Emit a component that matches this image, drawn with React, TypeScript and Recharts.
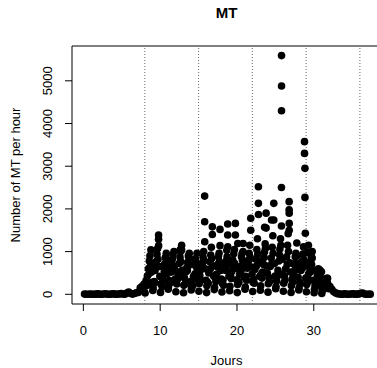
import { ScatterChart, Scatter, XAxis, YAxis, ReferenceLine, ReferenceArea } from "recharts";

// Axis setup (R style: 4% padding around data range)
const xDomain = [-1.48, 38.75];
const yDomain = [-227, 5815];
const xTicks = [0, 10, 20, 30];
const yTicks = [0, 1000, 2000, 3000, 4000, 5000];
const weekMarks = [8, 15, 22, 29, 36];

// Before the season: one reading every 6 hours
const sampleStep = 0.25;
const preStart = 0.15;
const preCounts = [
  5, 2, 0, 8, 3, 0, 4, 10, 2, 0, 6, 12, 3, 0, 5, 14,
  4, 0, 8, 15, 6, 2, 30, 55, 20, 5, 18, 35, 45, 150, 190, 240,
];

// After the season
const postStart = 32.1;
const postCounts = [
  180, 120, 60, 30, 15, 8, 0, 5, 10, 3, 0, 6, 12, 4, 0, 10, 25, 30, 8, 2, 0, 4,
];

// Season days and the counts at several hours of each day
const seasonDays = [8, 9, 10, 11, 12, 13, 14, 15, 16, 17, 18, 19, 20, 21, 22, 23, 24, 25, 26, 27, 28, 29, 30, 31];
const at1hLow = [30, 90, 45, 120, 60, 35, 100, 70, 40, 110, 55, 85, 40, 120, 65, 95, 50, 130, 70, 45, 100, 60, 35, 20];
const at1hHigh = [190, 150, 240, 170, 280, 210, 170, 250, 200, 160, 260, 190, 230, 170, 280, 200, 250, 180, 260, 200, 150, 230, 120, 80];
const at4h = [320, 260, 400, 330, 240, 380, 310, 440, 280, 390, 330, 450, 300, 420, 350, 470, 390, 310, 430, 360, 280, 400, 210, 150];
const at6h = [210, 300, 180, 260, 350, 240, 200, 330, 260, 300, 210, 370, 280, 330, 260, 380, 300, 420, 330, 280, 250, 300, 180, 110];
const at8h = [430, 560, 350, 600, 470, 520, 420, 580, 500, 470, 620, 540, 470, 610, 580, 520, 650, 560, 600, 500, 560, 480, 330, 240];
const at11h = [600, 760, 640, 520, 720, 620, 700, 690, 760, 640, 720, 800, 650, 760, 820, 700, 850, 780, 880, 700, 760, 640, 430, 300];
const at13h = [480, 640, 540, 700, 520, 560, 480, 750, 600, 700, 560, 640, 560, 800, 660, 860, 720, 920, 700, 560, 620, 520, 360, 230];
const at14h = [780, 940, 710, 820, 870, 750, 830, 870, 920, 880, 780, 950, 880, 960, 1050, 990, 1100, 1060, 1150, 880, 940, 780, 600, 340];
const at16h = [900, 1070, 860, 920, 1000, 900, 760, 1000, 1100, 960, 1030, 1050, 960, 1150, 1300, 1180, 1370, 1300, 1420, 960, 1110, 900, 500, 290];
const at17h = [650, 820, 700, 600, 760, 700, 640, 790, 840, 760, 880, 720, 800, 870, 940, 1080, 960, 1150, 1000, 740, 820, 700, 470, 260];
const at19hTop = [1040, 1390, 960, 1000, 1150, 960, 960, 2300, 1580, 1520, 1645, 1660, 1190, 1780, 2520, 1900, 2130, 2500, 2170, 1200, 3575, 1000, 570, 375];
const at19hNext = [700, 1290, 820, 650, 1040, 850, 700, 1700, 1400, 1140, 1390, 1390, 1000, 1500, 2130, 1550, 1740, 1600, 1980, 900, 3300, 850, 450, 260];
const at21h = [520, 650, 480, 600, 560, 690, 540, 600, 670, 560, 700, 610, 720, 640, 780, 660, 720, 820, 740, 620, 680, 560, 390, 210];
const at23h = [280, 420, 300, 360, 410, 300, 370, 330, 430, 360, 420, 340, 400, 470, 420, 500, 430, 470, 520, 400, 380, 330, 260, 130];

const seasonSlots: [number, number[]][] = [
  [1, at1hLow], [2, at1hHigh], [4, at4h], [6, at6h], [8, at8h], [11, at11h], [13, at13h],
  [14, at14h], [16, at16h], [17, at17h], [19, at19hTop], [19, at19hNext], [21, at21h], [23, at23h],
];

// Isolated readings (time in days, count)
const extraTimes = [9.8, 12.6, 15.8, 18.8, 20.1, 22.8, 23.6, 24.5, 25.8, 25.8, 25.8, 26.8, 26.8, 26.8, 28.85, 28.85, 28.9, 29.2, 29.3, 29.5, 31.0, 31.7];
const extraCounts = [1140, 1040, 1230, 1115, 1190, 1870, 1570, 1740, 5590, 4880, 4300, 1900, 1660, 1500, 2950, 2270, 1430, 980, 1150, 610, 530, 375];

const points: { x: number; y: number }[] = [];
preCounts.forEach((c, i) => points.push({ x: preStart + i * sampleStep, y: c }));
seasonSlots.forEach(([hour, counts]) =>
  counts.forEach((c, i) => points.push({ x: seasonDays[i] + hour / 24, y: c }))
);
extraTimes.forEach((t, i) => points.push({ x: t, y: extraCounts[i] }));
postCounts.forEach((c, i) => points.push({ x: postStart + i * sampleStep, y: c }));

const font = '"Liberation Sans", Arial, sans-serif';

function YTick(props: any) {
  const { x, y, payload } = props;
  const cx = x - 15;
  return (
    <text
      x={cx}
      y={y}
      transform={`rotate(-90, ${cx}, ${y})`}
      textAnchor="middle"
      dominantBaseline="central"
      fontSize={13}
      fontFamily={font}
      fill="#000"
    >
      {payload.value}
    </text>
  );
}

export default function App() {
  return (
    <div
      style={{
        position: "absolute",
        left: 0,
        top: 0,
        width: 377,
        height: 368,
        overflow: "hidden",
        background: "#fff",
        fontFamily: font,
      }}
    >
      <div
        style={{
          position: "absolute",
          left: 0,
          top: 4.6,
          width: 453,
          textAlign: "center",
          fontSize: 15,
          lineHeight: "15px",
          fontWeight: "bold",
          color: "#000",
        }}
      >
        MT
      </div>
      <ScatterChart width={381} height={368} margin={{ top: 46, right: 0, bottom: 34, left: 12 }}>
        <XAxis
          type="number"
          dataKey="x"
          domain={xDomain}
          allowDataOverflow
          ticks={xTicks}
          interval={0}
          height={30}
          axisLine={false}
          tickSize={7}
          tickMargin={15}
          tickLine={{ stroke: "#000" }}
          tick={{ fill: "#000", fontSize: 13, fontFamily: font }}
          label={{
            content: ({ viewBox }: any) => (
              <text
                x={viewBox.x + viewBox.width / 2}
                y={viewBox.y + 61}
                textAnchor="middle"
                fontSize={13}
                fontFamily={font}
                fill="#000"
              >
                Jours
              </text>
            ),
          }}
        />
        <YAxis
          type="number"
          dataKey="y"
          domain={yDomain}
          allowDataOverflow
          ticks={yTicks}
          interval={0}
          width={60}
          axisLine={false}
          tickSize={7}
          tickLine={{ stroke: "#000" }}
          tick={YTick}
          label={{
            content: ({ viewBox }: any) => {
              const lx = viewBox.x + 7.5;
              const ly = viewBox.y + viewBox.height / 2;
              return (
                <text
                  x={lx}
                  y={ly}
                  transform={`rotate(-90, ${lx}, ${ly})`}
                  textAnchor="middle"
                  fontSize={13}
                  fontFamily={font}
                  fill="#000"
                >
                  Number of MT per hour
                </text>
              );
            },
          }}
        />
        <Scatter
          data={points}
          isAnimationActive={false}
          shape={(p: any) => <circle cx={p.cx} cy={p.cy} r={3.8} fill="#000" />}
        />
        {weekMarks.map((w) => (
          <ReferenceLine key={w} x={w} stroke="#666" strokeDasharray="1 2" strokeWidth={1} />
        ))}
        <ReferenceArea
          x1={xDomain[0]}
          x2={xDomain[1]}
          y1={yDomain[0]}
          y2={yDomain[1]}
          fill="none"
          stroke="#000"
          strokeWidth={1}
        />
      </ScatterChart>
    </div>
  );
}
